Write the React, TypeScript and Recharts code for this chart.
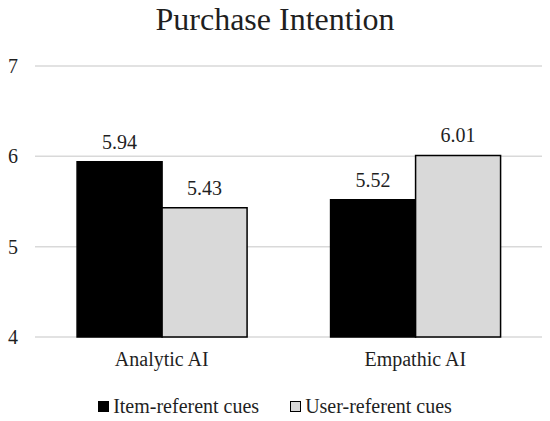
import { BarChart, Bar, XAxis, YAxis, CartesianGrid, LabelList } from "recharts";

const categories = ["Analytic AI", "Empathic AI"];
const itemReferent = [5.94, 5.52];
const userReferent = [5.43, 6.01];
const yTicks = [4, 5, 6, 7];

const FONT = '"Liberation Serif", "Times New Roman", Tinos, "DejaVu Serif", serif';
const TEXT = "#1f1f1f";

const data = categories.map((name, i) => ({
  name,
  item: itemReferent[i],
  user: userReferent[i],
}));

const legendItems = [
  { label: "Item-referent cues", fill: "#000000" },
  { label: "User-referent cues", fill: "#d9d9d9" },
];

export default function App() {
  return (
    <div
      className="pi-chart"
      style={{ position: "absolute", left: 0, top: 0, width: 550, height: 421, background: "#fff", fontFamily: FONT }}
    >
      <style>{`.pi-chart, .pi-chart div, .pi-chart span, .pi-chart text, .pi-chart tspan { font-family: ${FONT} !important; }`}</style>
      <div
        style={{
          position: "absolute",
          top: 1,
          width: 550,
          textAlign: "center",
          fontFamily: FONT,
          fontSize: 32,
          lineHeight: "36px",
          color: TEXT,
        }}
      >
        Purchase Intention
      </div>
      <BarChart
        width={550}
        height={421}
        data={data}
        margin={{ top: 66, right: 8, left: 0, bottom: 44 }}
        barGap={0}
        barCategoryGap="16.6%"
      >
        <CartesianGrid vertical={false} stroke="#d9d9d9" strokeWidth={1.5} />
        <XAxis
          dataKey="name"
          axisLine={false}
          tickLine={false}
          height={40}
          tickSize={0}
          tickMargin={15}
          tick={{ fontFamily: FONT, fontSize: 20, fill: TEXT }}
        />
        <YAxis
          domain={[4, 7]}
          ticks={yTicks}
          width={35}
          axisLine={false}
          tickLine={false}
          tickSize={0}
          tickMargin={17}
          tick={{ fontFamily: FONT, fontSize: 20, fill: TEXT }}
        />
        <Bar dataKey="item" fill="#000000" stroke="#000000" strokeWidth={1.5} isAnimationActive={false}>
          <LabelList dataKey="item" position="top" offset={13} style={{ fontFamily: FONT, fontSize: 20, fill: TEXT }} />
        </Bar>
        <Bar dataKey="user" fill="#d9d9d9" stroke="#000000" strokeWidth={1.5} isAnimationActive={false}>
          <LabelList dataKey="user" position="top" offset={13} style={{ fontFamily: FONT, fontSize: 20, fill: TEXT }} />
        </Bar>
      </BarChart>
      <div
        style={{
          position: "absolute",
          top: 395,
          width: 550,
          display: "flex",
          justifyContent: "center",
          gap: 31,
          fontFamily: FONT,
          fontSize: 20,
          color: TEXT,
          lineHeight: "22px",
        }}
      >
        {legendItems.map((it) => (
          <span key={it.label} style={{ display: "flex", alignItems: "center" }}>
            <span style={{ width: 9, height: 9, background: it.fill, border: "1px solid #000", marginRight: 4 }} />
            {it.label}
          </span>
        ))}
      </div>
    </div>
  );
}
